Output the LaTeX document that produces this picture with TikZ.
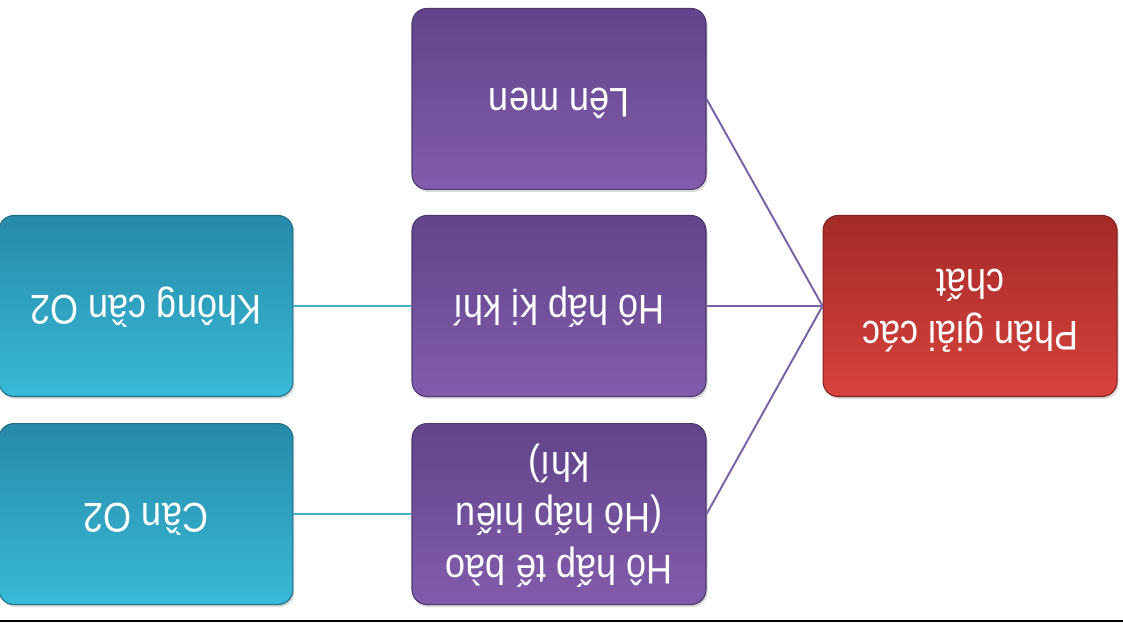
\documentclass[tikz,border=0pt]{standalone}
\usepackage{fontspec}
\setmainfont{Liberation Sans}
\usepackage{graphicx}
\usetikzlibrary{positioning,shadows}

\definecolor{violetTop}{RGB}{97,68,138}
\definecolor{violetBot}{RGB}{130,92,172}
\definecolor{redTop}{RGB}{163,42,40}
\definecolor{redBot}{RGB}{216,66,60}
\definecolor{tealTop}{RGB}{38,138,168}
\definecolor{tealBot}{RGB}{56,186,216}
\definecolor{violetLine}{RGB}{122,96,166}
\definecolor{tealLine}{RGB}{62,176,202}

% text of every box is printed upside down
\newcommand{\fliptext}[1]{\rotatebox[origin=c]{180}{\scalebox{1}[1.15]{\begin{tabular}{@{}c@{}}#1\end{tabular}}}}

\begin{document}
\begin{tikzpicture}[
    node distance=0.5cm,
    box/.style={rectangle, rounded corners=0.3cm, minimum width=5.88cm, minimum height=3.62cm, text=white, font=\fontsize{20.5}{25.5}\selectfont, inner sep=0pt, drop shadow={opacity=0.3, shadow xshift=0.03cm, shadow yshift=-0.05cm}},
    stepbox/.style={box, top color=violetTop, bottom color=violetBot, draw=violetTop!80!black, line width=0.6pt},
    rootbox/.style={box, top color=redTop, bottom color=redBot, draw=redTop!80!black, line width=0.6pt},
    needbox/.style={box, top color=tealTop, bottom color=tealBot, draw=tealTop!80!black, line width=0.6pt},
    violetlink/.style={draw=violetLine, line width=1.1pt},
    teallink/.style={draw=tealLine, line width=1.1pt}
]
    \useasboundingbox (0,0) rectangle (22.46,12.44);

    \node [stepbox] (kikhi) at (11.18,6.32) {\fliptext{Hô hấp kị khí}};
    \node [stepbox, above=of kikhi] (lenmen) {\fliptext{Lên men}};
    \node [stepbox, below=0.52cm of kikhi] (hieukhi) {\fliptext{Hô hấp tế bào\\(Hô hấp hiếu\\khí)}};
    \node [rootbox, right=2.32cm of kikhi] (phangiai) {\fliptext{Phân giải các\\chất}};
    \node [needbox, left=2.36cm of kikhi] (khongcan) {\fliptext{Không cần O2}};
    \node [needbox, left=2.36cm of hieukhi] (canoxy) {\fliptext{Cần O2}};

    \draw [violetlink] (phangiai.west) -- (lenmen.east);
    \draw [violetlink] (phangiai.west) -- (kikhi.east);
    \draw [violetlink] (phangiai.west) -- (hieukhi.east);
    \draw [teallink] (kikhi.west) -- (khongcan.east);
    \draw [teallink] (hieukhi.west) -- (canoxy.east);

    % bottom rule of the slide
    \draw [line width=0.04cm] (0,0.02) -- (22.46,0.02);
\end{tikzpicture}
\end{document}
